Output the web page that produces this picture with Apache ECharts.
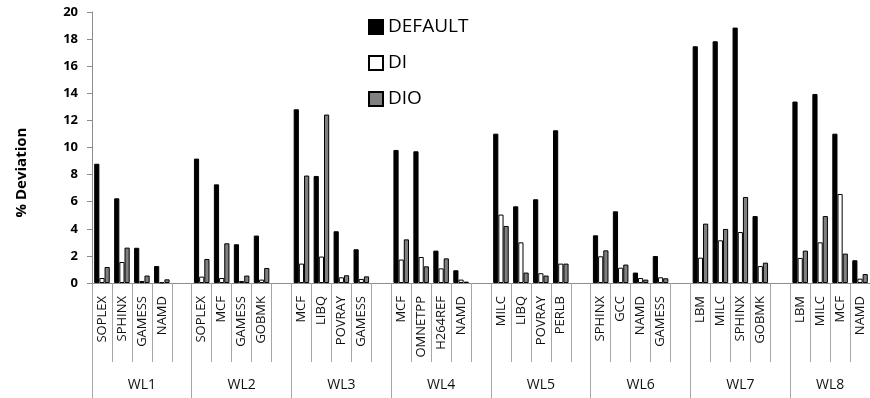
<!DOCTYPE html>
<html>
<head>
<meta charset="utf-8">
<script src="https://cdn.jsdelivr.net/npm/echarts@6/dist/echarts.min.js"></script>
<style>
html,body{margin:0;padding:0;background:#fff;}
#chart{width:870px;height:398px;}
</style>
</head>
<body>
<div id="chart"></div>
<script>
// ---- data ----
const groups = ['WL1','WL2','WL3','WL4','WL5','WL6','WL7','WL8'];
const benchmarks = [
  ['SOPLEX','SPHINX','GAMESS','NAMD'],
  ['SOPLEX','MCF','GAMESS','GOBMK'],
  ['MCF','LIBQ','POVRAY','GAMESS'],
  ['MCF','OMNETPP','H264REF','NAMD'],
  ['MILC','LIBQ','POVRAY','PERLB'],
  ['SPHINX','GCC','NAMD','GAMESS'],
  ['LBM','MILC','SPHINX','GOBMK'],
  ['LBM','MILC','MCF','NAMD']
];
const defaultVals = [
  [8.8, 6.25, 2.6, 1.25],
  [9.18, 7.28, 2.86, 3.5],
  [12.82, 7.9, 3.82, 2.49],
  [9.82, 9.72, 2.39, 0.94],
  [11.02, 5.66, 6.18, 11.27],
  [3.52, 5.29, 0.77, 1.99],
  [17.47, 17.84, 18.85, 4.94],
  [13.39, 13.95, 11.02, 1.68]
];
const diVals = [
  [0.37, 1.55, 0.15, 0.05],
  [0.47, 0.37, 0.15, 0.25],
  [1.43, 1.95, 0.42, 0.3],
  [1.73, 1.92, 1.08, 0.25],
  [5.05, 3.0, 0.72, 1.43],
  [1.97, 1.13, 0.37, 0.42],
  [1.87, 3.15, 3.76, 1.25],
  [1.85, 3.0, 6.57, 0.32]
];
const dioVals = [
  [1.18, 2.61, 0.55, 0.27],
  [1.77, 2.93, 0.55, 1.11],
  [7.93, 12.43, 0.57, 0.49],
  [3.22, 1.23, 1.82, 0.1],
  [4.21, 0.77, 0.55, 1.43],
  [2.41, 1.36, 0.25, 0.35],
  [4.38, 3.99, 6.35, 1.5],
  [2.39, 4.94, 2.17, 0.66]
];
const yTicks = [0,2,4,6,8,10,12,14,16,18,20];

// ---- build slots: 4 benchmarks + 1 empty spacer per group (none after last) ----
const cats = [], dS = [], iS = [], oS = [];
const groupTicks = [0], groupCenters = [];
let pos = 0;
groups.forEach((g, gi) => {
  const n = benchmarks[gi].length + (gi < groups.length - 1 ? 1 : 0);
  groupCenters.push(pos + n / 2);
  benchmarks[gi].forEach((b, bi) => {
    cats.push(b); dS.push(defaultVals[gi][bi]); iS.push(diVals[gi][bi]); oS.push(dioVals[gi][bi]);
  });
  if (gi < groups.length - 1) { cats.push(''); dS.push(null); iS.push(null); oS.push(null); }
  pos += n;
  groupTicks.push(pos);
});

const font = 'Open Sans';
const chart = echarts.init(document.getElementById('chart'), null, {renderer: 'canvas'});
chart.setOption({
  animation: false,
  backgroundColor: '#fff',
  textStyle: {fontFamily: font},
  legend: {
    orient: 'vertical', left: 363, top: 12,
    itemWidth: 14, itemHeight: 14, itemGap: 16,
    icon: 'rect',
    textStyle: {fontSize: 19, lineHeight: 20, color: '#000', fontFamily: font},
    data: ['DEFAULT', 'DI', 'DIO']
  },
  grid: {left: 92, top: 12, bottom: 115, width: 783, containLabel: false},
  xAxis: [
    {
      type: 'category', data: cats, position: 'bottom',
      axisLine: {show: true, lineStyle: {color: '#8c8c8c', width: 1}},
      axisTick: {show: true, interval: 0, length: 79, lineStyle: {color: '#a6a6a6'}},
      axisLabel: {interval: 0, rotate: 90, margin: 13, fontSize: 13, color: '#111', fontFamily: font},
      splitLine: {show: false}
    },
    {
      type: 'value', min: 0, max: pos, position: 'bottom', offset: 0,
      axisLine: {show: false},
      splitLine: {show: false},
      axisTick: {show: true, length: 120, customValues: groupTicks, lineStyle: {color: '#a6a6a6'}},
      axisLabel: {
        show: true, customValues: groupCenters, margin: 95, fontSize: 14, color: '#111', fontFamily: font,
        formatter: v => { const k = groupCenters.indexOf(v); return k >= 0 ? groups[k] : ''; }
      }
    }
  ],
  yAxis: {
    type: 'value', min: 0, max: 20, interval: 2,
    name: '% Deviation', nameLocation: 'middle', nameGap: 63, nameRotate: 90,
    nameTextStyle: {fontSize: 15, fontWeight: 'bold', color: '#000', fontFamily: font, padding: [0, 50, 0, 0]},
    axisLine: {show: true, lineStyle: {color: '#8c8c8c'}},
    axisTick: {show: true, inside: false, length: 5, lineStyle: {color: '#8c8c8c'}},
    axisLabel: {margin: 14, fontSize: 13, fontWeight: 'bold', color: '#000', fontFamily: font,
      customValues: yTicks},
    splitLine: {show: false}
  },
  series: [
    {name: 'DEFAULT', type: 'bar', data: dS, barGap: '0%', barCategoryGap: '22%',
     itemStyle: {color: '#000', borderColor: '#000', borderWidth: 1}},
    {name: 'DI', type: 'bar', data: iS, barGap: '0%', barCategoryGap: '22%',
     itemStyle: {color: '#fff', borderColor: '#000', borderWidth: 1}},
    {name: 'DIO', type: 'bar', data: oS, barGap: '0%', barCategoryGap: '22%',
     itemStyle: {color: '#808080', borderColor: '#000', borderWidth: 1}}
  ]
});
</script>
</body>
</html>
